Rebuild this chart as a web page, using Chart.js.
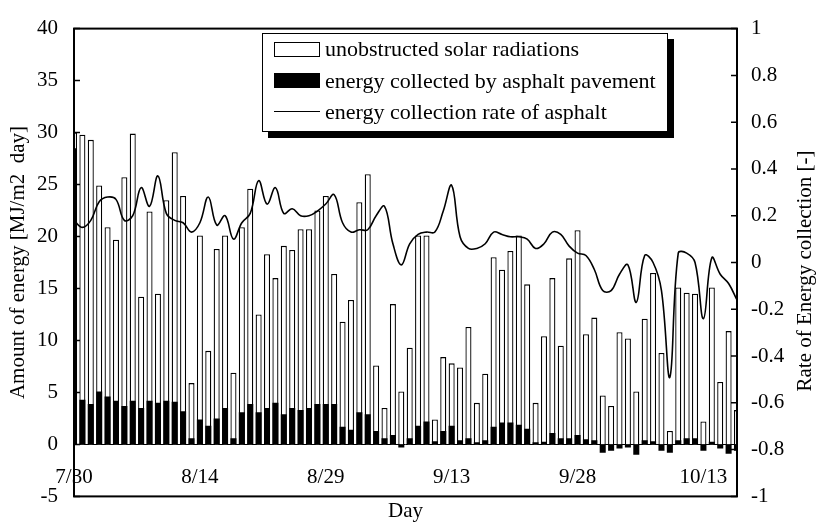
<!DOCTYPE html>
<html>
<head>
<meta charset="utf-8">
<script src="https://cdn.jsdelivr.net/npm/chart.js@4.4.1/dist/chart.umd.min.js"></script>
<style>
  html, body { margin: 0; padding: 0; background: #fff; }
  #wrap { position: relative; width: 822px; height: 525px; }
  #legend {
    position: absolute; left: 262px; top: 33px; width: 404px; height: 97px;
    border: 1.5px solid #000; box-shadow: 6px 6px 0 #000; background: #fff;
    font: 22px 'Liberation Serif', 'Times New Roman', serif; color: #000;
  }
  #legend .sym { position: absolute; left: 11px; width: 46px; box-sizing: border-box; }
  #legend .txt { position: absolute; left: 62px; height: 24px; line-height: 24px; white-space: nowrap; }
</style>
</head>
<body>
<div id="wrap">
  <canvas id="chart" width="822" height="525"></canvas>
  <div id="legend">
    <div class="sym" style="top:8px;height:15px;border:1.5px solid #000;background:#fff"></div>
    <div class="txt" style="top:3px">unobstructed solar radiations</div>
    <div class="sym" style="top:39px;height:15px;background:#000"></div>
    <div class="txt" style="top:35px">energy collected by asphalt pavement</div>
    <div class="sym" style="top:77px;height:0;border-top:1.5px solid #000"></div>
    <div class="txt" style="top:66px">energy collection rate of asphalt</div>
  </div>
</div>
<script>
// day 0 = 7/30, one value per day
const dayLabels = ['7/30', '8/14', '8/29', '9/13', '9/28', '10/13'];

// unobstructed solar radiation [MJ/m2 day]
const radiation = [
  30.0, 29.8, 29.3, 24.9, 20.9, 19.7, 25.7, 29.9, 14.2, 22.4,
  14.5, 23.5, 28.1, 23.9, 5.9, 20.1, 9.0, 18.8, 20.1, 6.9,
  20.9, 24.6, 12.5, 18.3, 16.0, 19.1, 18.7, 20.7, 20.7, 22.5,
  23.9, 16.4, 11.8, 13.9, 23.3, 26.0, 7.6, 3.5, 13.5, 5.1,
  9.3, 20.1, 20.1, 2.4, 8.4, 7.8, 7.4, 11.3, 4.0, 6.8,
  18.0, 16.8, 18.6, 20.1, 15.4, 4.0, 10.4, 16.0, 9.5, 17.9,
  20.6, 10.6, 12.2, 4.7, 3.7, 10.8, 10.2, 5.1, 12.1, 16.5,
  8.8, 1.3, 15.1, 14.6, 14.5, 2.2, 15.1, 6.0, 10.9, 3.3
];

// energy collected by asphalt pavement [MJ/m2 day]
const collected = [
  28.5, 4.3, 3.9, 5.1, 4.6, 4.2, 3.7, 4.2, 3.5, 4.2,
  4.0, 4.2, 4.1, 3.2, 0.6, 2.4, 1.8, 2.5, 3.5, 0.6,
  3.1, 3.9, 3.1, 3.5, 4.0, 2.9, 3.5, 3.3, 3.5, 3.9,
  3.9, 3.9, 1.7, 1.4, 3.1, 2.9, 1.3, 0.6, 0.9, -0.3,
  0.6, 1.8, 2.2, 0.3, 1.3, 1.8, 0.4, 0.6, 0.2, 0.4,
  1.7, 2.1, 2.1, 1.9, 1.5, 0.2, 0.25, 1.1, 0.6, 0.6,
  0.9, 0.5, 0.4, -0.8, -0.6, -0.4, -0.3, -1.0, 0.4, 0.3,
  -0.6, -0.8, 0.4, 0.6, 0.6, -0.6, 0.25, -0.4, -0.9, -0.6
];

// energy collection rate of asphalt [-]
const rate = [
  0.18, 0.15, 0.18, 0.26, 0.28, 0.27, 0.18, 0.20, 0.32, 0.24,
  0.37, 0.21, 0.18, 0.17, 0.13, 0.17, 0.28, 0.16, 0.20, 0.10,
  0.17, 0.21, 0.35, 0.25, 0.32, 0.21, 0.23, 0.20, 0.20, 0.22,
  0.25, 0.29, 0.17, 0.13, 0.14, 0.14, 0.20, 0.24, 0.08, -0.01,
  0.08, 0.12, 0.13, 0.13, 0.22, 0.33, 0.11, 0.06, 0.06, 0.08,
  0.13, 0.12, 0.11, 0.11, 0.10, 0.06, 0.08, 0.13, 0.12, 0.07,
  0.04, 0.03, -0.03, -0.12, -0.12, -0.05, -0.01, -0.17, 0.03, 0.00,
  -0.12, -0.49, 0.04, 0.04, 0.00, -0.24, 0.02, -0.05, -0.09, -0.16
];

const serif = "'Liberation Serif', 'Times New Roman', serif";
const tickFont = { family: serif, size: 21 };
const titleFont = { family: serif, size: 21, lineHeight: 1 };

const toPoints = arr => arr.map((v, i) => ({ x: i, y: v }));

// plot frame, zero line, inward tick marks and the right-hand title
const frame = {
  id: 'frame',
  beforeDatasetsDraw(chart) {
    const { ctx, chartArea: a, scales } = chart;
    const y0 = Math.round(scales.y.getPixelForValue(0)) + 0.5;
    ctx.save();
    ctx.strokeStyle = '#000';
    ctx.lineWidth = 1;
    ctx.beginPath();
    ctx.moveTo(a.left, y0);
    ctx.lineTo(a.right, y0);
    ctx.stroke();
    ctx.restore();
  },
  afterDraw(chart) {
    const { ctx, chartArea: a, scales } = chart;
    ctx.save();
    ctx.strokeStyle = '#000';
    ctx.lineWidth = 1.5;
    ctx.beginPath();
    scales.y.ticks.forEach(t => {
      const p = scales.y.getPixelForValue(t.value);
      ctx.moveTo(a.left, p);
      ctx.lineTo(a.left + 6, p);
    });
    scales.y1.ticks.forEach(t => {
      const p = scales.y1.getPixelForValue(t.value);
      ctx.moveTo(a.right, p);
      ctx.lineTo(a.right - 6, p);
    });
    ctx.stroke();
    ctx.lineWidth = 2;
    ctx.strokeRect(a.left, a.top, a.right - a.left, a.bottom - a.top);

    ctx.translate(a.right + 68, 271);
    ctx.rotate(-Math.PI / 2);
    ctx.fillStyle = '#000';
    ctx.font = '21px ' + serif;
    ctx.textAlign = 'center';
    ctx.textBaseline = 'middle';
    ctx.fillText('Rate of Energy collection [-]', 0, 0);
    ctx.restore();
  }
};

new Chart(document.getElementById('chart'), {
  type: 'bar',
  data: {
    datasets: [
      {
        type: 'line',
        label: 'energy collection rate of asphalt',
        data: toPoints(rate),
        yAxisID: 'y1',
        borderColor: '#000',
        borderWidth: 1.6,
        pointRadius: 0,
        tension: 0.4,
        order: 0
      },
      {
        label: 'energy collected by asphalt pavement',
        data: toPoints(collected),
        backgroundColor: '#000',
        borderWidth: 0,
        grouped: false,
        categoryPercentage: 1,
        barPercentage: 0.72,
        order: 1
      },
      {
        label: 'unobstructed solar radiations',
        data: toPoints(radiation),
        backgroundColor: '#fff',
        borderColor: '#000',
        borderWidth: 1.3,
        grouped: false,
        categoryPercentage: 1,
        barPercentage: 0.72,
        order: 2
      }
    ]
  },
  options: {
    responsive: false,
    devicePixelRatio: 1,
    animation: false,
    events: [],
    layout: { padding: { top: 22, left: 0, right: 0, bottom: 0 } },
    plugins: { legend: { display: false }, tooltip: { enabled: false } },
    scales: {
      x: {
        type: 'linear',
        position: { y: 0 },
        offset: false,
        min: 0,
        max: 79,
        grid: { display: false, drawTicks: false, offset: false },
        border: { display: false },
        ticks: {
          stepSize: 15,
          includeBounds: false,
          autoSkip: false,
          maxRotation: 0,
          padding: 20,
          color: '#000',
          font: tickFont,
          callback: v => dayLabels[v / 15]
        }
      },
      x2: {
        type: 'linear',
        position: 'bottom',
        offset: false,
        min: 0,
        max: 79,
        grid: { display: false, drawTicks: false, offset: false },
        border: { display: false },
        ticks: { display: false, includeBounds: false },
        title: { display: true, text: 'Day', color: '#000', font: titleFont, padding: 0 },
        afterFit: s => { s.height = 26; }
      },
      y: {
        position: 'left',
        min: -5,
        max: 40,
        grid: { display: false, drawTicks: false },
        border: { display: false },
        ticks: { stepSize: 5, padding: 16, color: '#000', font: tickFont },
        title: {
          display: true,
          text: 'Amount of energy [MJ/m2  day]',
          color: '#000',
          font: titleFont,
          padding: { top: 8, bottom: 0 }
        },
        afterFit: s => { s.width = 74; }
      },
      y1: {
        position: 'right',
        min: -1,
        max: 1,
        grid: { display: false, drawTicks: false },
        border: { display: false },
        ticks: {
          stepSize: 0.2,
          padding: 14,
          color: '#000',
          font: tickFont,
          callback: v => String(Math.round(v * 10) / 10)
        },
        afterFit: s => { s.width = 85; }
      }
    }
  },
  plugins: [frame]
});
</script>
</body>
</html>
